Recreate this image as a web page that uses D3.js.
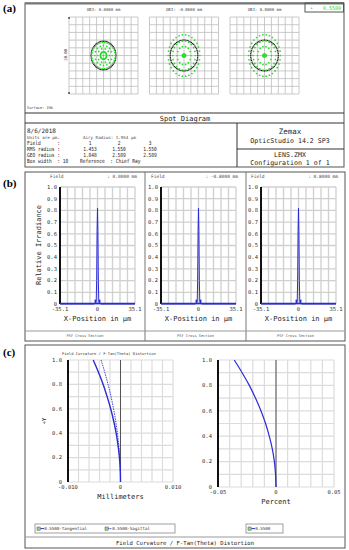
<!DOCTYPE html>
<html>
<head>
  <script src="https://d3js.org/d3.v7.min.js"></script>
  <style>
    body { margin: 0; background: #fff; }
    text { font-family: "DejaVu Sans Mono", "Liberation Mono", monospace; white-space: pre; }
  </style>
</head>
<body>
<svg id="chart" width="349" height="550"></svg>
<script>
// ---- data ----
const spotFields = ["OBJ: 0.0000 mm", "OBJ: -0.8000 mm", "OBJ: 0.8000 mm"];
// rings of rays in each spot (um): rx, ry, number of rays, colour key
const spotRings1 = [[1.8, 1.85, 56, "k"], [1.7, 1.72, 30, "g"], [1.25, 1.3, 16, "g"], [0.85, 0.9, 10, "g"], [0.45, 0.48, 26, "g"], [0, 0, 1, "g"]];
const spotRings2 = [[2.0, 2.0, 56, "k"], [2.3, 2.7, 30, "g"], [1.65, 1.9, 22, "g"], [1.0, 1.2, 14, "g"], [0.25, 0.2, 10, "g"], [0, 0, 1, "g"]];
const spotRings3 = [[2.0, 2.0, 56, "k"], [2.3, 2.7, 30, "g"], [1.65, 1.9, 22, "g"], [1.0, 1.2, 14, "g"], [0.25, 0.2, 10, "g"], [0, 0, 1, "g"]];
const infoLabels = ["Field      :", "RMS radius :", "GEO radius :"];
const infoCol1 = ["1", "1.453", "1.848"];
const infoCol2 = ["2", "1.550", "2.589"];
const infoCol3 = ["3", "1.550", "2.589"];

const psfFields = [": 0.0000 mm", ": -0.8000 mm", ": 0.8000 mm"];
const psfX = [-35.1, -3.2, -2.4, -2.0, -1.6, -1.2, -0.8, -0.4, 0, 0.4, 0.8, 1.2, 1.6, 2.0, 2.4, 3.2, 35.1];
const psfY1 = [0, 0, 0.005, 0.03, 0.005, 0.02, 0.2, 0.62, 0.82, 0.62, 0.2, 0.02, 0.005, 0.03, 0.005, 0, 0];
const psfY2 = [0, 0, 0.005, 0.03, 0.005, 0.02, 0.2, 0.62, 0.82, 0.62, 0.2, 0.02, 0.005, 0.03, 0.005, 0, 0];
const psfY3 = [0, 0, 0.005, 0.03, 0.005, 0.02, 0.2, 0.62, 0.82, 0.62, 0.2, 0.02, 0.005, 0.03, 0.005, 0, 0];
const psfYTicks = [0, 0.1, 0.2, 0.3, 0.4, 0.5, 0.6, 0.7, 0.8, 0.9, 1.0];

const fieldY = [0, 0.1, 0.2, 0.3, 0.4, 0.5, 0.6, 0.7, 0.8, 0.9, 1.0];
const tangential = [0, -0.00005, -0.0002, -0.00047, -0.00083, -0.0013, -0.00187, -0.00255, -0.0033, -0.0042, -0.0052];
const sagittal = [0, -0.00004, -0.00015, -0.00033, -0.00059, -0.00092, -0.00133, -0.0018, -0.00237, -0.003, -0.0037];
const distortion = [0, -0.0004, -0.0014, -0.0032, -0.0058, -0.009, -0.013, -0.0177, -0.023, -0.0292, -0.036];
const fcYTicks = [0, 0.2, 0.4, 0.6, 0.8, 1.0];

const blue = "#2b2bd6";
const green = "#22dd22";
const gridCol = "#d0d0d0";

const svg = d3.select("#chart");

function panelLabel(t, y) {
  svg.append("text").attr("x", 3).attr("y", y).text(t)
    .style("font-family", "'Liberation Serif', 'DejaVu Serif', serif")
    .style("font-weight", "bold").style("font-size", "11px");
}
function txt(x, y, s, size, anchor, col) {
  return svg.append("text").attr("x", x).attr("y", y).text(s)
    .attr("font-size", size).attr("text-anchor", anchor || "start")
    .attr("fill", col || "#222");
}
function box(x0, y0, x1, y1, w) {
  svg.append("rect").attr("x", x0).attr("y", y0).attr("width", x1 - x0).attr("height", y1 - y0)
    .attr("fill", "none").attr("stroke", "#555").attr("stroke-width", w || 1);
}
function hline(x0, x1, y, col, w) {
  svg.append("line").attr("x1", x0).attr("x2", x1).attr("y1", y).attr("y2", y)
    .attr("stroke", col || "#555").attr("stroke-width", w || 1);
}
function vline(x, y0, y1, col, w) {
  svg.append("line").attr("x1", x).attr("x2", x).attr("y1", y0).attr("y2", y1)
    .attr("stroke", col || "#555").attr("stroke-width", w || 1);
}
// evenly divided grid over the scales' domains
function grid(xs, ys, nx, ny, col, w) {
  const g = svg.append("g");
  d3.range(nx + 1).forEach(i => {
    const v = xs.domain()[0] + i * (xs.domain()[1] - xs.domain()[0]) / nx;
    g.append("line").attr("x1", xs(v)).attr("x2", xs(v)).attr("y1", ys.range()[0]).attr("y2", ys.range()[1])
      .attr("stroke", col).attr("stroke-width", w);
  });
  d3.range(ny + 1).forEach(i => {
    const v = ys.domain()[0] + i * (ys.domain()[1] - ys.domain()[0]) / ny;
    g.append("line").attr("y1", ys(v)).attr("y2", ys(v)).attr("x1", xs.range()[0]).attr("x2", xs.range()[1])
      .attr("stroke", col).attr("stroke-width", w);
  });
}

// ================= (a) spot diagram =================
panelLabel("(a)", 12);
box(25, 3, 344, 167, 1);
hline(25, 344, 3.5, "#777", 2);

const spotX0 = [69, 149.5, 230];
const spotRings = [spotRings1, spotRings2, spotRings3];
spotX0.forEach((x0, i) => {
  const xs = d3.scaleLinear().domain([-5, 5]).range([x0, x0 + 69]);
  const ys = d3.scaleLinear().domain([-5, 5]).range([94, 17]);
  grid(xs, ys, 10, 10, "#bdbdbd", 0.8);
  txt(xs(0), 10.5, spotFields[i], "4px", "middle", "#444");
  const pts = [];
  spotRings[i].forEach(r => {
    d3.range(r[2]).forEach(k => {
      const a = 2 * Math.PI * k / r[2];
      pts.push({ x: r[0] * Math.cos(a), y: r[1] * Math.sin(a), c: r[3] });
    });
  });
  svg.append("g").selectAll("circle").data(pts).join("circle")
    .attr("cx", d => xs(d.x)).attr("cy", d => ys(d.y))
    .attr("r", d => d.c === "k" ? 0.75 : 0.85)
    .attr("fill", d => d.c === "k" ? "#222" : green);
});
vline(69, 17, 19, "#000", 1);
vline(69, 92, 94, "#000", 1);
txt(0, 0, "10.00", "4px", "middle", "#444").attr("transform", "translate(66.5,55) rotate(-90)");
txt(27, 109, "Surface: IMA", "3.6px", "start", "#444");
box(305, 3, 343.5, 12, 1);
txt(310, 10, "\u2022", "5px", "start", green);
txt(341, 10, "0.5500", "5px", "end", green);

hline(25, 344, 113, "#333", 1);
txt(185, 120.8, "Spot Diagram", "7px", "middle", "#222");
hline(25, 344, 123, "#333", 1);
vline(237, 123, 167, "#333", 1);
hline(237, 344, 149, "#333", 1);
txt(27, 133, "8/6/2018", "6px");
txt(27, 138.5, "Units are \u00b5m.", "4.2px", "start", "#444");
txt(83, 138.5, "Airy Radius: 1.954 \u00b5m", "4.2px", "start", "#444");
// info rows are drawn in a condensed mono face, as in the reference
function infoTxt(x, y, s, anchor) {
  return txt(x, y, s, "5.6px", anchor).attr("textLength", s.length * 2.75).attr("lengthAdjust", "spacingAndGlyphs");
}
infoLabels.forEach((l, i) => {
  const y = 145 + i * 6;
  infoTxt(27, y, l);
  infoTxt(90, y, infoCol1[i], "middle");
  infoTxt(119, y, infoCol2[i], "middle");
  infoTxt(150, y, infoCol3[i], "middle");
});
infoTxt(27, 163, "Box width  : 10");
infoTxt(80, 163, "Reference  : Chief Ray");
txt(290, 134, "Zemax", "7.5px", "middle");
txt(290, 143, "OpticStudio 14.2 SP3", "6.6px", "middle");
txt(290, 157, "LENS.ZMX", "6.6px", "middle");
txt(290, 165, "Configuration 1 of 1", "6.6px", "middle");

// ================= (b) PSF cross section =================
panelLabel("(b)", 187);
box(25, 172, 345, 341, 1);
vline(145, 172, 341, "#777", 1);
vline(246, 172, 341, "#777", 1);
hline(25, 345, 331, "#999", 1);
const psfX0 = [60, 161, 261];
const psfSub = [[25, 145], [145, 246], [246, 345]];
const psfYs = [psfY1, psfY2, psfY3];
psfX0.forEach((x0, i) => {
  const xs = d3.scaleLinear().domain([-35.1, 35.1]).range([x0, x0 + 75]);
  const ys = d3.scaleLinear().domain([0, 1]).range([304, 187]);
  grid(xs, ys, 10, 10, gridCol, 1.3);
  vline(x0, ys(0), ys(1), "#111", 2);
  txt(x0 - 10, 178, "Field", "4.5px", "start", "#444");
  txt(x0 + 77, 178, psfFields[i], "4.5px", "end", "#444");
  psfYTicks.forEach(t => txt(x0 - 3, ys(t) + 1.8, t === 0 ? "0" : t.toFixed(1), "5.5px", "end", "#333"));
  [-35.1, 0, 35.1].forEach(t => txt(xs(t), 310.5, String(t), "5.5px", "middle", "#333"));
  txt(xs(0), 320.5, "X-Position in \u00b5m", "7px", "middle", "#222");
  const line = d3.line().x(d => xs(d[0])).y(d => ys(d[1]));
  hline(x0, x0 + 75, ys(0) - 0.5, blue, 1.6);
  svg.append("path").datum(psfX.map((x, k) => [x, psfYs[i][k]]))
    .attr("d", line).attr("fill", "none").attr("stroke", blue).attr("stroke-width", 1);
  [-2.0, 2.0].forEach(x => svg.append("rect").attr("x", xs(x) - 0.8).attr("y", ys(0.03) - 0.8)
    .attr("width", 1.6).attr("height", 1.6).attr("fill", blue));
  const c = (psfSub[i][0] + psfSub[i][1]) / 2;
  txt(c, 337, "PSF Cross Section", "3.6px", "middle", "#555");
});
txt(0, 0, "Relative Irradiance", "7px", "middle", "#222").attr("transform", "translate(41,245) rotate(-90)");

// ================= (c) field curvature / distortion =================
panelLabel("(c)", 356);
box(25, 345, 345, 548, 1);
hline(25, 345, 537, "#999", 1);
txt(185, 544.5, "Field Curvature / F-Tan(Theta) Distortion", "5.6px", "middle", "#222");
txt(62, 354.5, "Field Curvature / F-Tan(Theta) Distortion", "3.8px", "start", "#333");

function fcPlot(x0, x1, y0, dom, ticks, tickFmt, title, series) {
  const xs = d3.scaleLinear().domain(dom).range([x0, x1]);
  const ys = d3.scaleLinear().domain([0, 1]).range([y0, 360]);
  grid(xs, ys, 10, 10, "#dcdcdc", 1.2);
  vline(xs(0), ys(0), ys(1), "#555", 1);
  vline(x0, ys(0), ys(1), "#111", 2);
  fcYTicks.forEach(t => txt(x0 - 6, ys(t) + 1.8, t === 0 ? "0" : t.toFixed(1), "5.5px", "end", "#333"));
  ticks.forEach((t, k) => txt(xs(t), y0 + 7, tickFmt[k], "5.5px", "middle", "#333"));
  txt(xs(0), y0 + 17, title, "7px", "middle", "#222");
  series.forEach(s => {
    svg.append("path").datum(fieldY.map((y, k) => [s.v[k], y]))
      .attr("d", d3.line().curve(d3.curveMonotoneY).x(d => xs(d[0])).y(d => ys(d[1])))
      .attr("fill", "none").attr("stroke", blue).attr("stroke-width", s.w)
      .attr("stroke-dasharray", s.dash || null);
  });
}
fcPlot(68, 173, 482, [-0.01, 0.01], [-0.01, 0, 0.01], ["-0.010", "0", "0.010"], "Millimeters",
  [{ v: tangential, w: 1.4 }, { v: sagittal, w: 0.9, dash: "1.5,1" }]);
fcPlot(218, 334, 487, [-0.05, 0.05], [-0.05, 0, 0.05], ["-0.05", "0", "0.05"], "Percent",
  [{ v: distortion, w: 1.2 }]);
txt(0, 0, "+Y", "5.5px", "middle", "#222").attr("transform", "translate(46,421) rotate(-90)");

// legends
function legendItem(x, y, label, dash) {
  svg.append("rect").attr("x", x).attr("y", y - 2.5).attr("width", 3.2).attr("height", 3.2)
    .attr("fill", "#9c9").attr("stroke", "#363").attr("stroke-width", 0.5);
  svg.append("line").attr("x1", x + 3.5).attr("x2", x + 7).attr("y1", y - 0.9).attr("y2", y - 0.9)
    .attr("stroke", blue).attr("stroke-width", 1).attr("stroke-dasharray", dash || null);
  txt(x + 7.2, y + 0.6, label, "4.2px", "start", "#333");
}
svg.append("rect").attr("x", 35).attr("y", 524).attr("width", 140).attr("height", 9)
  .attr("fill", "#fff").attr("stroke", "#888").attr("stroke-width", 0.8);
legendItem(37, 529.5, "0.5500-Tangential");
legendItem(105, 529.5, "0.5500-Sagittal", "1,0.8");
svg.append("rect").attr("x", 246).attr("y", 524).attr("width", 37).attr("height", 9)
  .attr("fill", "#fff").attr("stroke", "#888").attr("stroke-width", 0.8);
legendItem(248, 529.5, "0.5500");
</script>
</body>
</html>
